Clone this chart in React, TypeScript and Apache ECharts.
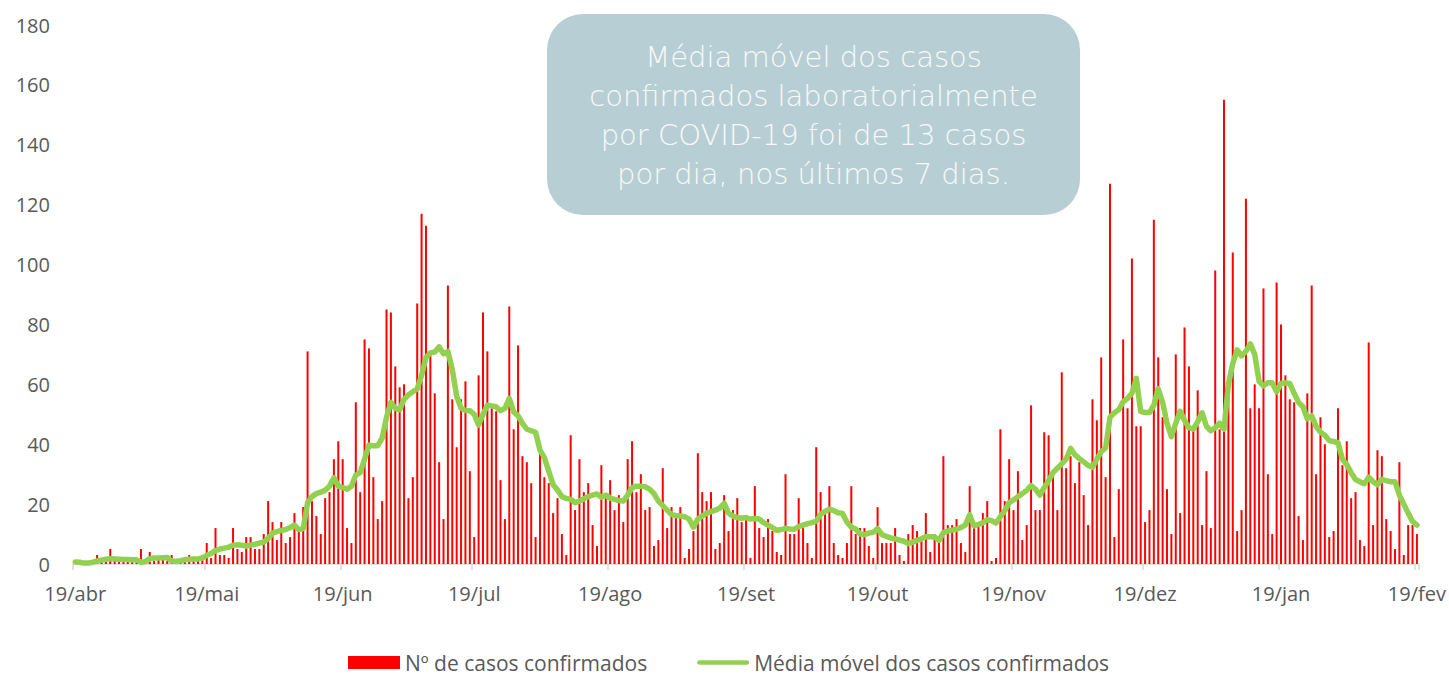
import React, { useEffect, useRef } from "react";
import * as echarts from "echarts";

const monthNames = ["jan", "fev", "mar", "abr", "mai", "jun", "jul", "ago", "set", "out", "nov", "dez"];
const startDate = [2020, 3, 19];
const dayCount = 307;

const tickLabels = ["19/abr", "19/mai", "19/jun", "19/jul", "19/ago", "19/set", "19/out", "19/nov", "19/dez", "19/jan", "19/fev"];
const yTicks = [0, 20, 40, 60, 80, 100, 120, 140, 160, 180];

const dailyCases = [
  1, 0, 0, 1, 1, 3, 1, 2, 5, 1,
  2, 1, 2, 1, 1, 5, 0, 4, 1, 2,
  2, 1, 3, 0, 1, 2, 3, 1, 2, 3,
  7, 2, 12, 3, 3, 2, 12, 5, 4, 9,
  9, 5, 5, 10, 21, 14, 8, 14, 7, 9,
  17, 11, 19, 71, 21, 16, 10, 22, 24, 35,
  41, 35, 12, 7, 54, 24, 75, 72, 29, 15,
  21, 85, 84, 66, 59, 60, 22, 29, 87, 117,
  113, 70, 57, 34, 15, 93, 55, 39, 55, 61,
  31, 9, 63, 84, 71, 52, 51, 28, 15, 86,
  45, 73, 36, 34, 27, 9, 40, 29, 27, 17,
  22, 10, 3, 43, 18, 35, 24, 27, 13, 6,
  33, 22, 28, 18, 23, 14, 35, 41, 24, 30,
  18, 19, 6, 8, 32, 12, 19, 16, 19, 2,
  5, 11, 37, 24, 21, 24, 5, 7, 23, 11,
  18, 22, 14, 16, 2, 26, 12, 9, 15, 11,
  4, 3, 30, 10, 10, 22, 12, 7, 2, 39,
  24, 18, 26, 7, 3, 2, 7, 26, 10, 12,
  12, 6, 2, 19, 7, 7, 7, 12, 3, 1,
  10, 13, 11, 9, 17, 4, 10, 8, 36, 13,
  13, 15, 7, 4, 26, 13, 13, 17, 21, 1,
  2, 45, 21, 35, 18, 31, 8, 13, 53, 18,
  18, 44, 43, 31, 18, 64, 32, 36, 27, 34,
  23, 13, 55, 48, 69, 29, 127, 9, 25, 75,
  52, 102, 46, 46, 14, 18, 115, 69, 49, 25,
  10, 70, 17, 79, 66, 45, 58, 13, 31, 12,
  98, 45, 155, 60, 104, 11, 18, 122, 52, 60,
  52, 92, 30, 10, 94, 80, 63, 55, 54, 16,
  8, 57, 93, 30, 49, 40, 9, 11, 52, 33,
  41, 22, 24, 8, 6, 74, 13, 38, 36, 15,
  11, 5, 34, 3, 13, 13, 10,
];

const movingAverage = [
  0.7, 0.6, 0.3, 0.3, 0.6, 1.0, 1.3, 1.6, 1.8, 1.7,
  1.6, 1.5, 1.5, 1.4, 1.4, 0.6, 0.8, 1.8, 2.0, 2.0,
  2.1, 2.2, 1.0, 0.9, 1.1, 1.4, 1.6, 1.7, 1.7, 2.0,
  2.9, 3.5, 4.5, 5.0, 5.3, 5.6, 6.3, 6.4, 6.3, 6.0,
  6.3, 6.6, 7.0, 7.3, 8.5, 10.3, 10.8, 11.2, 11.5, 12.2,
  13.0, 11.5, 11.8, 20.5, 22.5, 23.5, 24.0, 24.6, 26.0, 28.8,
  26.0, 25.5, 25.0, 26.0, 29.7, 30.5, 35.0, 39.7, 39.5, 39.5,
  42.0, 49.0, 54.0, 52.0, 51.5, 55.0, 56.5, 57.5, 58.5, 63.0,
  69.0, 70.5, 70.8, 72.5, 70.2, 71.0, 65.0, 56.0, 52.0, 51.3,
  51.2, 50.0, 46.4, 50.0, 53.0, 52.8, 52.5, 51.2, 52.0, 55.3,
  50.8, 49.5, 47.0, 45.0, 44.5, 44.0, 38.0, 35.5, 31.0, 26.5,
  24.7, 22.5, 21.9, 21.6, 20.5, 21.0, 21.8, 22.5, 23.0, 23.4,
  22.3, 23.0, 22.0, 21.6, 21.2, 21.0, 23.0, 25.5, 26.0, 26.0,
  25.8, 25.0, 23.5, 21.0, 19.5, 18.0, 16.5, 16.2, 16.0, 15.8,
  15.0, 12.3, 15.0, 16.0, 17.0, 17.5, 18.0, 18.6, 20.3, 17.0,
  16.0, 15.5, 15.3, 15.5, 15.0, 15.2, 15.0, 13.8, 13.0, 12.2,
  11.2, 11.5, 11.9, 11.7, 11.6, 12.5, 13.0, 13.5, 13.8, 14.3,
  16.5, 17.5, 18.3, 17.8, 17.1, 16.9, 14.0, 12.3, 11.7, 10.0,
  9.8, 10.3, 10.6, 11.8, 9.8, 9.2, 8.7, 8.4, 8.0, 7.6,
  6.8, 7.3, 7.9, 8.4, 9.1, 9.1, 9.0, 7.9, 10.5, 11.0,
  11.3, 11.6, 12.2, 13.0, 16.4, 12.7, 13.2, 13.8, 14.8, 14.5,
  13.7, 15.8, 17.8, 20.5, 21.4, 22.5, 23.5, 24.6, 26.2, 25.0,
  23.0, 25.5, 27.8, 30.5, 32.0, 33.4, 35.0, 38.6, 36.5, 35.2,
  34.1, 33.0, 32.3, 35.0, 37.5, 38.8, 49.0, 50.5, 51.5, 54.2,
  55.3, 57.0, 62.0, 51.0, 50.6, 50.6, 53.0, 58.5, 54.0, 47.0,
  42.5, 47.0, 51.0, 48.0, 45.5, 45.0, 47.5, 50.5, 46.0, 44.5,
  45.5, 47.0, 45.0, 60.0, 67.0, 71.5, 69.5, 71.0, 73.5, 70.0,
  61.0, 59.5, 60.5, 60.5, 57.5, 60.3, 60.5, 60.3, 57.0, 54.0,
  52.5, 48.5, 49.5, 46.0, 44.0, 43.0, 41.2, 40.9, 40.5, 35.0,
  33.2, 30.5, 28.2, 27.5, 26.8, 29.0, 27.5, 26.5, 28.3, 27.8,
  27.5, 27.5, 23.0, 20.0, 17.0, 14.2, 13.0,
];

const boxLines = [
  "Média móvel dos casos",
  "confirmados laboratorialmente",
  "por COVID-19 foi de 13 casos",
  "por dia, nos últimos 7 dias.",
];

const seriesNames = ["Nº de casos confirmados", "Média móvel dos casos confirmados"];

function buildCategories(): string[] {
  const out: string[] = [];
  const d = new Date(startDate[0], startDate[1], startDate[2]);
  for (let i = 0; i < dayCount; i++) {
    out.push(`${d.getDate()}/${monthNames[d.getMonth()]}`);
    d.setDate(d.getDate() + 1);
  }
  return out;
}

export default function App() {
  const ref = useRef<HTMLDivElement>(null);

  useEffect(() => {
    if (!ref.current) return;
    const chart = echarts.init(ref.current, undefined, { renderer: "svg" });
    const categories = buildCategories();
    const showTick = (_i: number, v: string) => tickLabels.includes(v);
    const font = "'Open Sans', 'Liberation Sans', sans-serif";
    // thin rounded bar inside a 56x13 box (move-to points set the box)
    const lineIcon =
      "path://M0,0 M56,13 M2.5,4 L53.5,4 A2.5,2.5 0 0 1 53.5,9 L2.5,9 A2.5,2.5 0 0 1 2.5,4 Z";

    chart.setOption({
      animation: false,
      backgroundColor: "#ffffff",
      grid: { left: 73, right: 25.2, top: 25, bottom: 111, containLabel: false },
      legend: {
        left: 348,
        top: 652,
        padding: 0,
        itemWidth: 52,
        itemHeight: 13,
        itemGap: 50,
        textStyle: { fontFamily: font, fontSize: 21, color: "#595959" },
        data: [
          { name: seriesNames[0], icon: "rect" },
          { name: seriesNames[1], icon: lineIcon },
        ],
      },
      xAxis: {
        type: "category",
        data: categories,
        boundaryGap: true,
        axisLine: { show: true, lineStyle: { color: "#d9d9d9", width: 1.5 } },
        axisTick: { show: true, interval: showTick, length: 6, lineStyle: { color: "#d9d9d9", width: 1.5 } },
        axisLabel: {
          interval: showTick,
          margin: 19,
          fontFamily: font,
          fontSize: 20,
          color: "#595959",
        },
        splitLine: { show: false },
      },
      yAxis: {
        type: "value",
        min: yTicks[0],
        max: yTicks[yTicks.length - 1],
        interval: 20,
        axisLine: { show: false },
        axisTick: { show: false },
        splitLine: { show: false },
        axisLabel: { margin: 23, fontFamily: font, fontSize: 20, color: "#595959" },
      },
      series: [
        {
          name: seriesNames[0],
          type: "bar",
          data: dailyCases,
          barWidth: 2,
          itemStyle: { color: "#ff0000" },
          z: 2,
        },
        {
          name: seriesNames[1],
          type: "line",
          data: movingAverage,
          symbol: "none",
          smooth: false,
          lineStyle: { color: "#92d050", width: 5.5, cap: "round", join: "round" },
          itemStyle: { color: "#92d050" },
          z: 3,
        },
      ],
      graphic: [
        {
          type: "group",
          z: 10,
          children: [
            {
              type: "rect",
              shape: { x: 547, y: 14, width: 533, height: 201, r: 36 },
              style: { fill: "#b7cfd4" },
            },
            ...boxLines.map((t, i) => ({
              type: "text",
              x: 813.5,
              y: 56.5 + i * 39,
              style: {
                text: t,
                fill: "#f7f9fa",
                fontFamily: "'DejaVu Sans', Lato, sans-serif",
                fontWeight: 200,
                fontSize: 29,
                align: "center",
                verticalAlign: "middle",
              },
            })),
          ],
        },
      ],
    });

    return () => chart.dispose();
  }, []);

  return (
    <div
      ref={ref}
      style={{ position: "absolute", left: 0, top: 0, width: 1449, height: 675 }}
    />
  );
}
